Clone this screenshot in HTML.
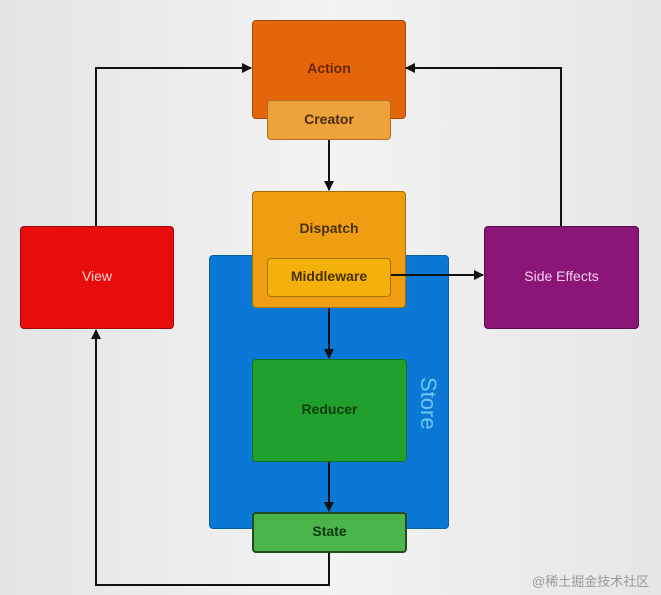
<!DOCTYPE html>
<html><head><meta charset="utf-8"><style>
body{margin:0;width:661px;height:595px;overflow:hidden;background:linear-gradient(90deg,#e4e4e4,#f3f3f3 50%,#e6e6e6);font-family:"Liberation Sans",sans-serif;}
.b{position:absolute;box-sizing:border-box;border-radius:4px;display:flex;align-items:center;justify-content:center;font-size:14px;font-weight:bold;padding-bottom:3px;}
</style></head><body>
<div class="b" style="left:209px;top:255px;width:240px;height:274px;background:#0a78d4;border:1px solid #0860a8"></div>
<div style="position:absolute;left:413px;top:377px;transform:rotate(90deg);color:#6cc6f4;font-size:22px;width:30px;text-align:center;line-height:30px;">Store</div>
<div class="b" style="left:252px;top:20px;width:154px;height:99px;background:#e5650a;border:1px solid #a64808;color:#6a2606">Action</div>
<div class="b" style="left:267px;top:100px;width:124px;height:40px;background:#eda23c;border:1px solid #b06e20;color:#4a2c08">Creator</div>
<div class="b" style="left:252px;top:191px;width:154px;height:117px;background:#ee9e10;border:1px solid #a66c08;color:#4a3008;align-items:flex-start;padding-top:28px">Dispatch</div>
<div class="b" style="left:267px;top:258px;width:124px;height:39px;background:#f4b10c;border:1px solid #a6740a;color:#4a3008">Middleware</div>
<div class="b" style="left:252px;top:359px;width:155px;height:103px;background:#22a02e;border:1px solid #137020;color:#083c0c">Reducer</div>
<div class="b" style="left:252px;top:512px;width:155px;height:41px;background:#4bb44a;border:2px solid #234a20;color:#083c0c">State</div>
<div class="b" style="left:20px;top:226px;width:154px;height:103px;background:#e80c0c;border:1px solid #a00808;color:#ffd0d0;font-weight:normal">View</div>
<div class="b" style="left:484px;top:226px;width:155px;height:103px;background:#8c1678;border:1px solid #5a0c4c;color:#f4d0ee;font-weight:normal">Side Effects</div>
<svg width="661" height="595" style="position:absolute;left:0;top:0">
<defs><marker id="a" markerWidth="10" markerHeight="10" refX="9" refY="5" orient="auto" markerUnits="userSpaceOnUse"><path d="M0,0L10,5L0,10z" fill="#111"/></marker></defs>
<g stroke="#111" stroke-width="2" fill="none">
<path d="M96,226V68H251" marker-end="url(#a)"/>
<path d="M561,226V68H406" marker-end="url(#a)"/>
<path d="M391,275H483" marker-end="url(#a)"/>
<path d="M329,553V585H96V330" marker-end="url(#a)"/>
<path d="M329,140V190" marker-end="url(#a)"/>
<path d="M329,308V358" marker-end="url(#a)"/>
<path d="M329,462V511" marker-end="url(#a)"/>
</g></svg>
<div style="position:absolute;left:532px;top:571px;font-size:13px;color:#999;font-family:'Liberation Sans','Noto Sans CJK SC',sans-serif">@稀土掘金技术社区</div>
</body></html>
